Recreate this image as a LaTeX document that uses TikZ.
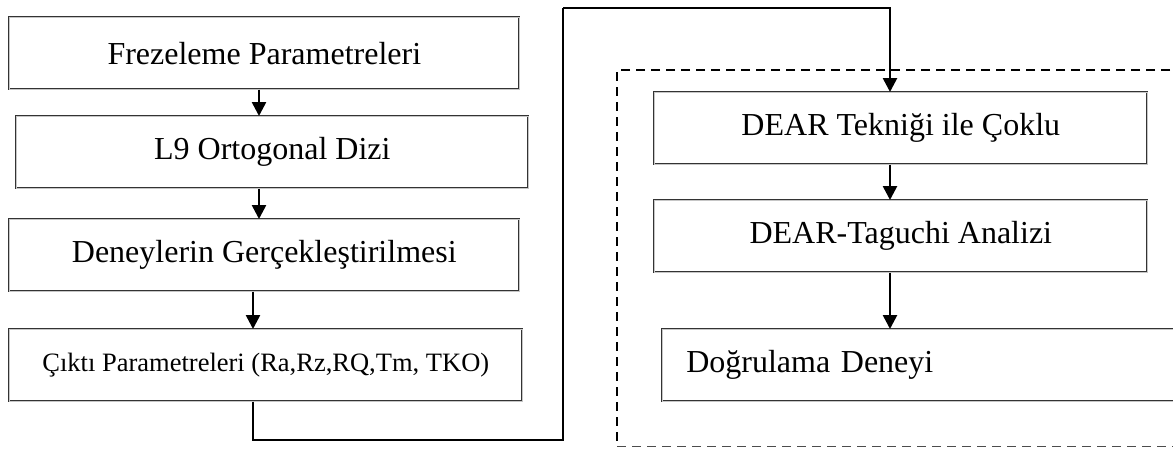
\documentclass[tikz,border=0pt]{standalone}
\usepackage{fontspec}
\setmainfont{Liberation Serif}
\usetikzlibrary{arrows.meta}
\begin{document}
\begin{tikzpicture}[x=1pt,y=-1pt,
  box/.style={draw=black!80, double=gray!45, double distance=1pt, line width=0.6pt,
              inner sep=0pt, anchor=north west, minimum height=72pt,
              font=\fontsize{32}{36}\selectfont},
  flow/.style={line width=2.6pt, -{Triangle[length=14pt,width=14pt]}},
  link/.style={line width=2.6pt, line join=miter},
  ]
\useasboundingbox (0,0) rectangle (1173,448);
% left column
\node[box, minimum width=510pt] (b1) at (9,17) {Frezeleme Parametreleri};
\node[box, minimum width=512pt] (b2) at (16,116) {L9 Ortogonal Dizi};
\node[box, minimum width=510pt] (b3) at (9,219) {Deneylerin Gerçekleştirilmesi};
\node[box, minimum width=513pt, font=\fontsize{26.5}{30}\selectfont] (b4) at (9,329) {Çıktı Parametreleri (Ra,Rz,RQ,Tm, TKO)};
% right column
\node[box, minimum width=493pt] (b5) at (654,92) {\raisebox{4pt}{DEAR Tekniği ile Çoklu}};
\node[box, minimum width=493pt] (b6) at (654,200) {DEAR-Taguchi Analizi};
\node[box, text width=469pt, inner xsep=24pt, align=left, text height=22pt, text depth=7pt, minimum height=72pt] (b7) at (662,329) {Doğrulama Deneyi};
% dashed frame
\draw[line width=1.8pt, dash pattern=on 9pt off 6pt] (1185,70) -- (617,70) -- (617,446);
\draw[line width=1pt, draw=black!70, dash pattern=on 9pt off 6pt] (617,446) -- (1185,446);
% coordinates
\coordinate (a1) at (259,0);
\coordinate (a3) at (253,0);
\coordinate (a5) at (890,0);
\coordinate (lo) at (563,440);
\coordinate (hi) at (563,8);
% arrows
\draw[flow] (b1.south -| a1) -- (b2.north -| a1);
\draw[flow] (b2.south -| a1) -- (b3.north -| a1);
\draw[flow] (b3.south -| a3) -- (b4.north -| a3);
\draw[link] (b4.south -| a3) |- (lo) -- (hi);
\draw[flow, line join=miter] (hi) -| (b5.north -| a5);
\draw[flow] (b5.south -| a5) -- (b6.north -| a5);
\draw[flow] (b6.south -| a5) -- (b7.north -| a5);
\end{tikzpicture}
\end{document}
